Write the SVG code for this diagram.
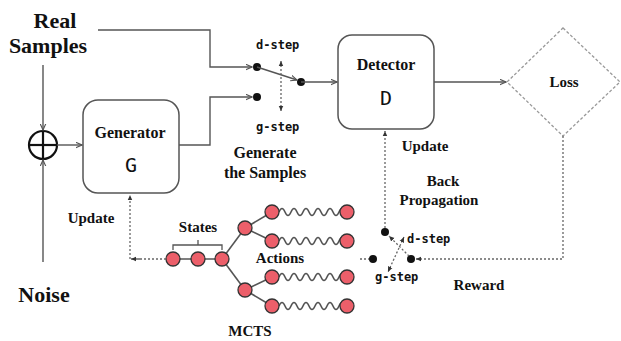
<svg xmlns="http://www.w3.org/2000/svg" width="621" height="341" viewBox="0 0 621 341">
<defs>
<marker id="ah" viewBox="0 0 10 10" refX="9" refY="5" markerWidth="7" markerHeight="7" orient="auto-start-reverse" markerUnits="userSpaceOnUse">
<path d="M0,1 L9,5 L0,9" fill="none" stroke="#555" stroke-width="1.6"/>
</marker>
<marker id="dh" viewBox="0 0 10 10" refX="9" refY="5" markerWidth="6" markerHeight="6" orient="auto-start-reverse" markerUnits="userSpaceOnUse">
<path d="M0,1 L9,5 L0,9 Z" fill="#333"/>
</marker>
<style>
.t{font-family:"Liberation Serif","Times New Roman",serif;font-weight:bold;fill:#111;text-anchor:middle}
.m{font-family:"DejaVu Sans Mono","Liberation Mono",monospace;fill:#111}
.ln{fill:none;stroke:#555;stroke-width:1.4}
.dl{fill:none;stroke:#666;stroke-width:1.3;stroke-dasharray:2 2}
.box{fill:#fff;stroke:#555;stroke-width:1.5}
.n{fill:#ec5f6a;stroke:#333;stroke-width:1.3}
.e{stroke:#555;stroke-width:1.6;fill:none}
.dot{fill:#111}
</style>
</defs>

<g id="real-samples">
<text class="t" x="55" y="28" font-size="22">Real</text>
<text class="t" x="48" y="53" font-size="22">Samples</text>
</g>
<g id="noise">
<text class="t" x="44" y="302" font-size="22">Noise</text>
</g>
<g id="sum">
<circle cx="43" cy="145" r="14" fill="none" stroke="#111" stroke-width="2.2"/>
<line x1="29" y1="145" x2="57" y2="145" stroke="#111" stroke-width="2.2"/>
<line x1="43" y1="131" x2="43" y2="159" stroke="#111" stroke-width="2.2"/>
</g>
<g id="generator">
<rect class="box" x="83" y="100" width="96" height="93" rx="15"/>
<text class="t" x="130" y="138" font-size="16">Generator</text>
<text class="m" x="131" y="172" font-size="20" text-anchor="middle">G</text>
</g>
<g id="detector">
<rect class="box" x="338" y="35" width="96" height="94" rx="14"/>
<text class="t" x="386" y="70" font-size="16">Detector</text>
<text class="m" x="386" y="105" font-size="20" text-anchor="middle">D</text>
</g>
<g id="loss">
<polygon points="563,28 620,82 563,136 507,82" fill="#fff" stroke="#999" stroke-width="1.3" stroke-dasharray="3 2"/>
<text class="t" x="564" y="87" font-size="15">Loss</text>
</g>
<g id="switch-top">
<circle class="dot" cx="257" cy="67" r="4"/>
<circle class="dot" cx="257" cy="97" r="4"/>
<circle class="dot" cx="301" cy="82" r="4"/>
<text class="m" x="256" y="49" font-size="12" font-weight="bold">d-step</text>
<text class="m" x="256" y="131" font-size="12" font-weight="bold">g-step</text>
</g>
<g id="switch-bottom">
<circle class="dot" cx="385" cy="232" r="4"/>
<circle class="dot" cx="373" cy="259" r="4"/>
<circle class="dot" cx="411" cy="259" r="4"/>
<text class="m" x="407" y="243" font-size="12" font-weight="bold">d-step</text>
<text class="m" x="375" y="281" font-size="12" font-weight="bold">g-step</text>
</g>
<g id="labels">
<text class="t" x="265" y="158" font-size="16">Generate</text>
<text class="t" x="265" y="178" font-size="16">the Samples</text>
<text class="t" x="425" y="151" font-size="15">Update</text>
<text class="t" x="443" y="186" font-size="15">Back</text>
<text class="t" x="439" y="205" font-size="15">Propagation</text>
<text class="t" x="479" y="290" font-size="15">Reward</text>
<text class="t" x="91" y="223" font-size="15">Update</text>
<text class="t" x="280" y="263" font-size="15">Actions</text>
<text class="t" x="198" y="232" font-size="15">States</text>
<text class="t" x="250" y="336" font-size="15">MCTS</text>
</g>
<g id="mcts">
<path d="M173,250 V245 H222 V250 M198,245 V240" fill="none" stroke="#555" stroke-width="1.3"/>
<line class="e" x1="173" y1="259" x2="222" y2="259"/>
<line class="e" x1="222" y1="259" x2="245" y2="228"/>
<line class="e" x1="222" y1="259" x2="245" y2="290"/>
<line class="e" x1="245" y1="228" x2="272" y2="212"/>
<line class="e" x1="245" y1="228" x2="272" y2="241"/>
<line class="e" x1="245" y1="290" x2="272" y2="277"/>
<line class="e" x1="245" y1="290" x2="272" y2="306"/>
<path class="e" d="M279,212 q3,-7 6,0 t6,0 t6,0 t6,0 t6,0 t6,0 t6,0 t6,0 t6,0 t6,0 t6,0"/>
<path class="e" d="M279,241 q3,-7 6,0 t6,0 t6,0 t6,0 t6,0 t6,0 t6,0 t6,0 t6,0 t6,0 t6,0"/>
<path class="e" d="M279,277 q3,-7 6,0 t6,0 t6,0 t6,0 t6,0 t6,0 t6,0 t6,0 t6,0 t6,0 t6,0"/>
<path class="e" d="M279,306 q3,-7 6,0 t6,0 t6,0 t6,0 t6,0 t6,0 t6,0 t6,0 t6,0 t6,0 t6,0"/>
<circle class="n" cx="173" cy="259" r="7"/>
<circle class="n" cx="198" cy="259" r="7"/>
<circle class="n" cx="222" cy="259" r="7"/>
<circle class="n" cx="245" cy="228" r="7"/>
<circle class="n" cx="245" cy="290" r="7"/>
<circle class="n" cx="272" cy="212" r="7"/>
<circle class="n" cx="272" cy="241" r="7"/>
<circle class="n" cx="272" cy="277" r="7"/>
<circle class="n" cx="272" cy="306" r="7"/>
<circle class="n" cx="347" cy="212" r="7"/>
<circle class="n" cx="347" cy="241" r="7"/>
<circle class="n" cx="347" cy="277" r="7"/>
<circle class="n" cx="347" cy="306" r="7"/>
</g>
<g id="connectors">
<path class="ln" d="M98,30 H210 V67 H252" marker-end="url(#ah)"/>
<path class="ln" d="M179,145 H210 V97 H252" marker-end="url(#ah)"/>
<path class="ln" d="M257,67 L297,80" marker-end="url(#ah)"/>
<path class="ln" d="M301,82 H337" marker-end="url(#ah)"/>
<path class="ln" d="M434,82 H506" marker-end="url(#ah)"/>
<path class="ln" d="M43,65 V130" marker-end="url(#ah)"/>
<path class="ln" d="M43,262 V160" marker-end="url(#ah)"/>
<path class="ln" d="M57,145 H82" marker-end="url(#ah)"/>
<path class="dl" d="M281,61 V111" marker-start="url(#dh)" marker-end="url(#dh)"/>
<path class="dl" d="M563,136 V259 H416" marker-end="url(#dh)"/>
<path class="dl" d="M385,228 V131" marker-end="url(#dh)"/>
<path class="dl" d="M409,256 L389,236" marker-end="url(#dh)"/>
<path class="dl" d="M404,237 L388,272" marker-start="url(#dh)" marker-end="url(#dh)"/>
<path class="dl" d="M360,259 H369"/>
<path class="dl" d="M166,259 H130 V195" marker-end="url(#dh)"/>
<path class="dl" d="M140,259 H131" marker-end="url(#dh)"/>
</g>
</svg>
